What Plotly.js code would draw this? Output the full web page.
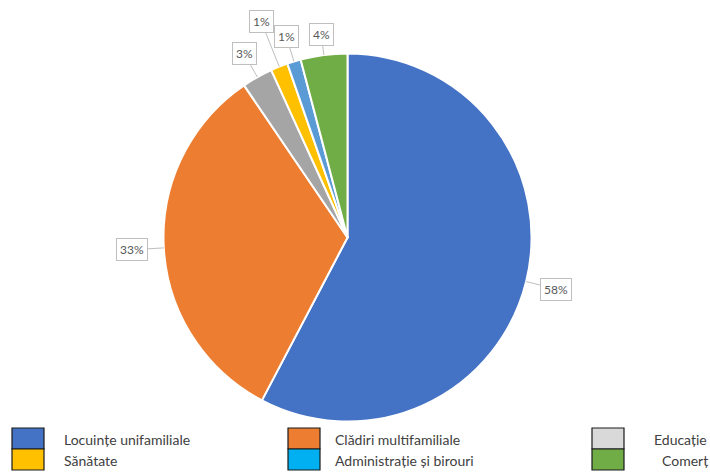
<!DOCTYPE html>
<html>
<head>
<meta charset="utf-8">
<script src="https://cdn.plot.ly/plotly-3.0.1.min.js"></script>
<style>html,body{margin:0;padding:0;background:#fff;}#chart{width:710px;height:476px;}</style>
</head>
<body>
<div id="chart"></div>
<script>
// ---- data ----
const categories = ["Locuințe unifamiliale", "Clădiri multifamiliale", "Educație", "Sănătate", "Administrație și birouri", "Comerț"];
const shares = [57.7, 32.8, 2.7, 1.5, 1.2, 4.1];
const shareLabels = ["58%", "33%", "3%", "1%", "1%", "4%"];

// ---- styles ----
const sliceColors = ["#4472C4", "#ED7D31", "#A5A5A5", "#FFC000", "#5B9BD5", "#70AD47"];
const legendColors = ["#4472C4", "#ED7D31", "#D9D9D9", "#FFC000", "#00B0F0", "#70AD47"];
const labelDist = [215, 216, 211, 233, 210, 205]; // px from centre
const W = 710, H = 476;
const cx = 347.5, cy = 237.5, R = 184;

const trace = {
  type: "pie",
  values: shares,
  labels: categories,
  sort: false,
  direction: "clockwise",
  rotation: 0,
  textinfo: "none",
  hoverinfo: "label+percent",
  showlegend: false,
  marker: {colors: sliceColors, line: {color: "#ffffff", width: 2}},
  domain: {x: [(cx - R) / W, (cx + R) / W], y: [1 - (cy + R) / H, 1 - (cy - R) / H]}
};

const total = shares.reduce((a, b) => a + b, 0);
const annotations = [];
let cum = 0;
shares.forEach((v, i) => {
  const mid = (cum + v / 2) / total * 2 * Math.PI;
  cum += v;
  const s = Math.sin(mid), c = Math.cos(mid);
  const ex = cx + R * s, ey = cy - R * c;
  const d = labelDist[i] - R;
  annotations.push({
    xref: "paper", yref: "paper",
    x: ex / W, y: 1 - ey / H,
    ax: d * s, ay: -d * c,
    text: shareLabels[i],
    showarrow: true, arrowhead: 0, arrowwidth: 1, arrowcolor: "#BFBFBF",
    font: {family: "Lato, 'Open Sans', sans-serif", size: 12, color: "#595959"},
    bgcolor: "#ffffff", bordercolor: "#BFBFBF", borderwidth: 1, borderpad: 3
  });
});

// custom legend (3 columns x 2 rows)
const shapes = [];
const colX = [12, 288, 592];
const textX = [62, 333, 652];
const rowY = [428, 449];
categories.forEach((name, i) => {
  const col = i % 3, row = Math.floor(i / 3);
  const x0 = colX[col], y0 = rowY[row];
  shapes.push({
    type: "rect", xref: "paper", yref: "paper",
    x0: x0 / W, x1: (x0 + 32) / W, y0: 1 - (y0 + 21) / H, y1: 1 - y0 / H,
    fillcolor: legendColors[i], line: {color: "#1a1a1a", width: 1.2}
  });
  annotations.push({
    xref: "paper", yref: "paper",
    x: (textX[col] + (i === 5 ? 8 : 0)) / W, y: 1 - (y0 + 11) / H,
    xanchor: "left", yanchor: "middle",
    text: name, showarrow: false,
    font: {family: "Lato, 'Open Sans', sans-serif", size: 14, color: "#404040"}
  });
});

const layout = {
  width: W, height: H,
  margin: {l: 0, r: 0, t: 0, b: 0},
  paper_bgcolor: "#ffffff",
  showlegend: false,
  annotations: annotations,
  shapes: shapes
};

Plotly.newPlot("chart", [trace], layout, {displayModeBar: false, staticPlot: true});
</script>
</body>
</html>
